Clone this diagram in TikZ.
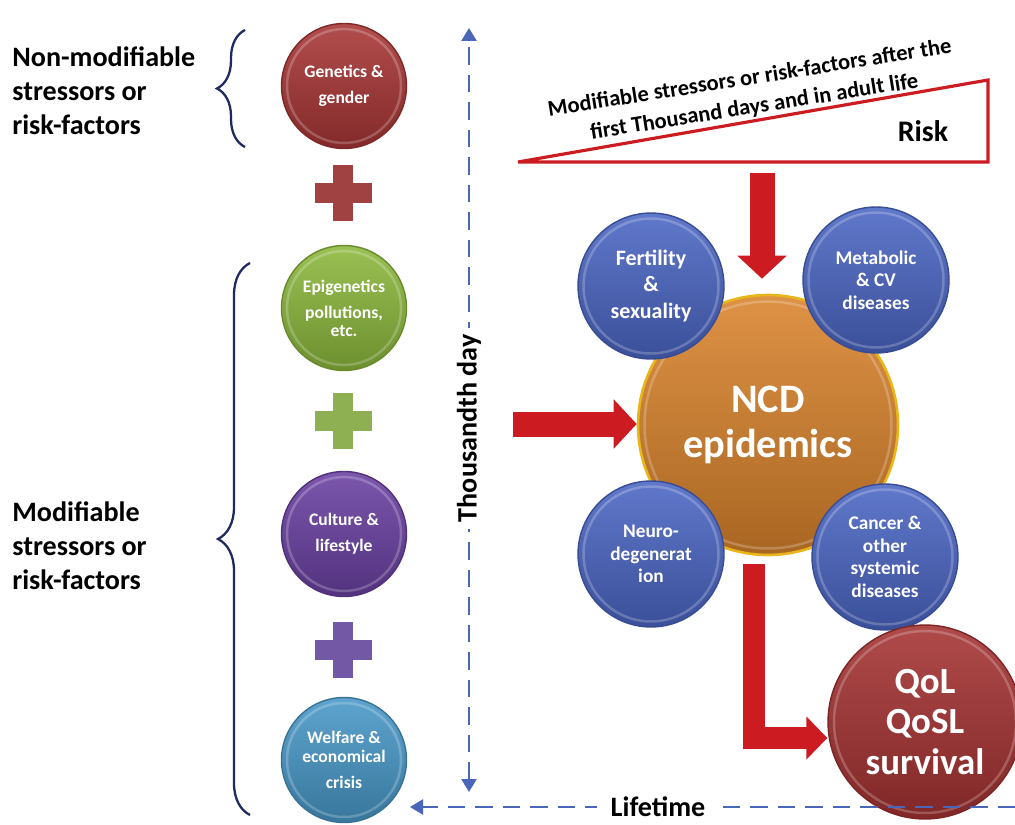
\documentclass[tikz,border=0pt]{standalone}
\usepackage{fontspec}
\setmainfont{Carlito}
\usetikzlibrary{arrows.meta,decorations.pathreplacing}

\definecolor{genred}{HTML}{A83535}
\definecolor{epigreen}{HTML}{8CB83C}
\definecolor{cultviolet}{HTML}{6A40A2}
\definecolor{welfblue}{HTML}{4898C8}
\definecolor{ncdblue}{HTML}{4B66C4}
\definecolor{ncdorange}{HTML}{D9832C}
\definecolor{qolred}{HTML}{A53232}
\definecolor{plusred}{HTML}{A04242}
\definecolor{plusgreen}{HTML}{8FB052}
\definecolor{plusviolet}{HTML}{7358A6}
\definecolor{arrowred}{HTML}{CC1C22}
\definecolor{timeblue}{HTML}{4A66B8}
\definecolor{bracenavy}{HTML}{1F2B5E}

\begin{document}
\begin{tikzpicture}[x=0.02cm,y=-0.02cm]
        \useasboundingbox (0,0) rectangle (1015,825);

        \tikzstyle{every node}=[font=\bfseries]
        \tikzset{
            button/.style={circle,draw=#1!75!black,line width=0.8pt,
                top color=#1!88!white,bottom color=#1!78!black,
                text=white,align=center},
            ring/.style={path picture={\draw[white,opacity=.22,line width=1.4pt]
                (path picture bounding box.center) circle[radius=#1];}},
            timetip/.tip={Triangle[width=0.3cm,length=0.26cm]},
        }
        \tikzstyle{leftball}=[minimum size=2.5cm,ring=1.14cm,font=\fontsize{10}{15}\selectfont\bfseries]
        \tikzstyle{sideball}=[button=ncdblue,minimum size=2.92cm,ring=1.35cm,font=\fontsize{11}{12.8}\selectfont\bfseries]
        \tikzstyle{label}=[align=left,anchor=west,inner sep=0pt,font=\fontsize{16}{19.3}\selectfont\bfseries]
        \tikzstyle{brace}=[draw=bracenavy,line width=1.3pt,decorate]
        \tikzstyle{bigarrow}=[draw=arrowred,line width=0.5cm,-{Triangle[length=0.46cm,width=0.96cm]}]
        \tikzstyle{timeline}=[draw=timeblue,line width=0.05cm,dash pattern=on 0.35cm off 0.2cm]

        % stressors on the left
        \node[label] (nonmod) at (12,91) {Non-modifiable\\stressors or\\risk-factors};
        \node[label] (mod) at (12,546) {Modifiable\\stressors or\\risk-factors};
        \draw[brace,decoration={brace,amplitude=0.56cm}] (245,147) -- (245,30);
        \draw[brace,decoration={brace,amplitude=0.64cm}] (250,815) -- (250,263);

        \node[button=genred,leftball] (genetics) at (344,86) {Genetics \&\\gender};
        \node[button=epigreen,leftball] (epigen) at (344,308) {Epigenetics\\pollutions,\\[-5pt]etc.};
        \node[button=cultviolet,leftball] (culture) at (344,534) {Culture \&\\lifestyle};
        \node[button=welfblue,leftball] (welfare) at (344,760) {Welfare \&\\[-4pt]economical\\crisis};

        \foreach \y/\c in {193/plusred,421/plusgreen,650/plusviolet} {
            \fill[\c] (315,\y-10) rectangle (372,\y+10);
            \fill[\c] (333,\y-28) rectangle (353,\y+28);
        }

        % risk wedge
        \draw[arrowred,line width=1.8pt] (518,162) -- (988,162) -- (988,80) -- cycle;
        \node[inner sep=0pt,font=\fontsize{17}{20}\selectfont\bfseries] (risk) at (923,131) {Risk};
        \node[rotate=9,align=center,inner sep=0pt,font=\fontsize{12.8}{16.5}\selectfont\bfseries] (after) at (752,93)
            {Modifiable stressors or risk-factors after the\\first Thousand days and in adult life};

        % NCD and its satellites
        \node[button=ncdorange,draw=ncdorange!60!yellow,line width=1.5pt,minimum size=5.2cm,ring=2.47cm,
            font=\fontsize{23}{25.5}\selectfont\bfseries] (ncd) at (768,425) {NCD\\epidemics};
        \node[sideball,font=\fontsize{12.5}{15}\selectfont\bfseries] (fert) at (651,286) {Fertility\\\&\\sexuality};
        \node[sideball] (metab) at (876,280) {Metabolic\\\& CV\\diseases};
        \node[sideball] (neuro) at (651,554) {Neuro-\\degenerat\\ion};
        \node[sideball] (cancer) at (885,557) {Cancer \&\\other\\systemic\\diseases};

        \node[button=qolred,minimum size=3.88cm,ring=1.82cm,
            font=\fontsize{21}{23}\selectfont\bfseries] (qol) at (925,722) {QoL\\QoSL\\survival};

        % red arrows
        \coordinate (fromrisk) at (762,173);
        \coordinate (fromleft) at (513,424);
        \coordinate (bend) at (754,738);
        \draw[bigarrow,shorten >=0.3cm] (fromrisk) -- (fromrisk |- ncd.north);
        \draw[bigarrow] (fromleft) -- (fromleft -| ncd.west);
        \draw[bigarrow,line width=0.45cm,-{Triangle[length=0.42cm,width=0.84cm]},shorten <=0.16cm]
            (bend |- ncd.south) -- (bend) -- (qol.west |- bend);

        % time axes
        \coordinate (daytop) at (469,28);
        \coordinate (daybot) at (469,792);
        \coordinate (lifeend) at (1015,807);
        \coordinate (lifestart) at (410,807);
        \draw[timeline,timetip-timetip] (daybot) -- node[pos=0.476,fill=white,rotate=90,
            font=\fontsize{16}{19}\selectfont\bfseries,inner sep=4pt] (thousand) {Thousandth day} (daytop);
        \draw[timeline,-timetip] (lifeend) -- node[pos=0.59,fill=white,
            font=\fontsize{16}{19}\selectfont\bfseries,inner xsep=8pt] (lifetime) {Lifetime} (lifestart);

\end{tikzpicture}
\end{document}
